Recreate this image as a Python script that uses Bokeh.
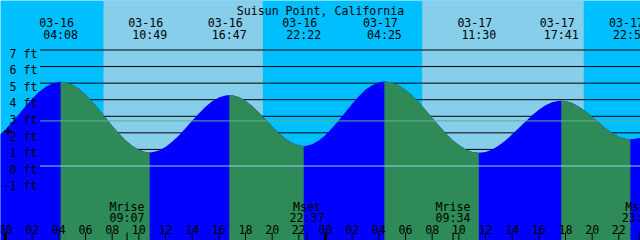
import numpy as np
from bokeh.plotting import figure
from bokeh.models import Range1d
from bokeh.core.properties import value
from bokeh.embed import file_html
from bokeh.resources import INLINE

# ---------------- data ----------------
title_text = "Suisun Point, California"

# high / low tide events
tide_times = ["03-16 04:08", "03-16 10:49", "03-16 16:47", "03-16 22:22",
              "03-17 04:25", "03-17 11:30", "03-17 17:41", "03-17 22:52"]
tide_heights = [5.08, 0.82, 4.28, 1.21, 5.10, 0.80, 3.94, 1.61]

# tide height (ft) read every half hour, starting 03-16 -1:00 (i.e. 03-15 23:00)
curve_start = -1.0
curve_step = 0.5
curve_heights = [
    1.54, 1.83, 2.21, 2.65, 3.13, 3.61, 4.06, 4.46, 4.77, 4.98,
    5.07, 5.05, 4.91, 4.66, 4.31, 3.89, 3.42, 2.92, 2.43, 1.96,
    1.55, 1.22, 0.98, 0.84, 0.83, 0.93, 1.15, 1.46, 1.84, 2.28,
    2.73, 3.17, 3.57, 3.90, 4.14, 4.26, 4.27, 4.16, 3.93, 3.62,
    3.23, 2.81, 2.38, 1.98, 1.64, 1.39, 1.24, 1.21, 1.31, 1.54,
    1.87, 2.29, 2.76, 3.26, 3.76, 4.21, 4.60, 4.88, 5.05, 5.10,
    5.03, 4.86, 4.59, 4.25, 3.84, 3.38, 2.91, 2.44, 1.99, 1.59,
    1.26, 1.01, 0.85, 0.80, 0.85, 1.00, 1.23, 1.54, 1.91, 2.30,
    2.69, 3.07, 3.40, 3.66, 3.85, 3.93, 3.92, 3.80, 3.59, 3.30,
    2.97, 2.62, 2.28, 1.99, 1.77, 1.64, 1.61, 1.68, 1.83]

moon_names = ["Mrise", "Mset", "Mrise", "Mset"]
moon_times = ["03-16 09:07", "03-16 22:37", "03-17 09:34", "03-17 23:32"]

sunrise_times = ["03-16 07:21", "03-17 07:15"]
sunset_times = ["03-16 19:18", "03-17 19:22"]

ft_levels = [7, 6, 5, 4, 3, 2, 1, 0, -1]
ft_labels = ["7 ft", "6 ft", "5 ft", "4 ft", "3 ft", "2 ft", "1 ft", "0 ft", "-1 ft"]
mean_level = 2.72
marker_level = 2.08

hour_ticks = list(range(0, 48, 2))
hour_labels = ["00", "02", "04", "06", "08", "10", "12", "14", "16", "18", "20", "22",
               "00", "02", "04", "06", "08", "10", "12", "14", "16", "18", "20", "22"]

# ---------------- colours / layout ----------------
NIGHT = "#00BFFF"
DAY = "#87CEEB"
RISE = "#0000FF"
FALL = "#2E8B57"
MEAN_COLOR = "#5FAE94"
ZERO_COLOR = "#8FD3EC"
FONT = value("DejaVu Sans Mono")
FSIZE = "11.6px"

W, H = 640, 240
X_PX0 = 5.0            # pixel column of 03-16 00:00
PX_PER_H = 40.0 / 3.0
Y_PX0 = 165.5          # pixel row of 0 ft
PX_PER_FT = 116.0 / 7.0


def hx(px):
    return (px - X_PX0) / PX_PER_H


def fy(py):
    return (Y_PX0 - py) / PX_PER_FT


def to_h(s):
    md, hm = s.split()
    day = int(md.split("-")[1])
    hh, mm = hm.split(":")
    return (day - 16) * 24 + int(hh) + int(mm) / 60.0


p = figure(width=W, height=H, x_range=Range1d(hx(0), hx(W)), y_range=Range1d(fy(H), fy(0)),
           output_backend="svg", toolbar_location=None, min_border=0,
           x_axis_type=None, y_axis_type=None, outline_line_color=None,
           background_fill_color=NIGHT, border_fill_color=NIGHT)
p.grid.visible = False

# day bands
p.quad(left=[to_h(s) for s in sunrise_times], right=[to_h(s) for s in sunset_times],
       bottom=fy(H + 2), top=fy(-2), fill_color=DAY, line_color=None)

# level lines (behind the tide)
p.segment(x0=hx(39.5), x1=hx(W + 5), y0=ft_levels, y1=ft_levels, line_color="black", line_width=1)

# tide curve
ext_t = [to_h(s) for s in tide_times]
cv_t = [curve_start + i * curve_step for i in range(len(curve_heights))]
pts = sorted(list(zip(cv_t, curve_heights)) + list(zip(ext_t, tide_heights)))
all_t = np.array([a for a, b in pts])
all_h = np.array([b for a, b in pts])
bottom = fy(H + 5)

p.varea(x=all_t, y1=np.full(len(all_t), bottom), y2=all_h, fill_color=RISE)
bounds = [all_t[0]] + ext_t + [all_t[-1]]
for i in range(len(bounds) - 1):
    t0, t1 = bounds[i], bounds[i + 1]
    if i == 0:
        falling = tide_heights[0] < tide_heights[1]
    elif i < len(ext_t):
        falling = tide_heights[i - 1] > tide_heights[i]
    else:
        falling = tide_heights[-1] > tide_heights[-2]
    if falling:
        m = (all_t >= t0) & (all_t <= t1)
        p.varea(x=all_t[m], y1=np.full(m.sum(), bottom), y2=all_h[m], fill_color=FALL)

# mean level and zero lines (on top of the tide)
p.segment(x0=hx(39.5), x1=hx(W + 5), y0=mean_level, y1=mean_level, line_color=MEAN_COLOR, line_width=1)
p.segment(x0=hx(39.5), x1=hx(W + 5), y0=0, y1=0, line_color=ZERO_COLOR, line_width=1)

# level labels
p.text(x=hx(37), y=[l - 3.7 / PX_PER_FT for l in ft_levels], text=ft_labels,
       text_align="right", text_baseline="alphabetic", text_font=FONT, text_font_size=FSIZE,
       text_color="black")
p.scatter(x=[hx(7.5)], y=[marker_level], marker="cross", size=8, line_width=1.5, line_color="black")

# title
p.text(x=[hx(320)], y=[fy(10)], text=[title_text], text_align="center", text_baseline="alphabetic",
       text_font=FONT, text_font_size=FSIZE, text_color="black")

# tide event labels
p.text(x=[t - 4 / PX_PER_H for t in ext_t], y=fy(21.7), text=[s.split()[0] for s in tide_times],
       text_align="center", text_baseline="alphabetic", text_font=FONT, text_font_size=FSIZE,
       text_color="black")
p.text(x=ext_t, y=fy(34), text=[s.split()[1] for s in tide_times],
       text_align="center", text_baseline="alphabetic", text_font=FONT, text_font_size=FSIZE,
       text_color="black")

# moon event labels
moon_t = [to_h(s) for s in moon_times]
p.text(x=moon_t, y=fy(206), text=moon_names, text_align="center", text_baseline="alphabetic",
       text_font=FONT, text_font_size=FSIZE, text_color="black")
p.text(x=moon_t, y=fy(217.3), text=[s.split()[1] for s in moon_times], text_align="center",
       text_baseline="alphabetic", text_font=FONT, text_font_size=FSIZE, text_color="black")

# hour labels and ticks
p.text(x=hour_ticks, y=fy(229.3), text=hour_labels, text_align="center", text_baseline="alphabetic",
       text_font=FONT, text_font_size=FSIZE, text_color="black")
minor = [t for t in hour_ticks if t % 24 != 0] + moon_t
major = [t for t in hour_ticks if t % 24 == 0]
p.segment(x0=minor, x1=minor, y0=fy(232), y1=fy(H + 2), line_color="black", line_width=1)
p.segment(x0=major, x1=major, y0=fy(232), y1=fy(H + 2), line_color="black", line_width=3)

open("out.html", "w").write(file_html(p, INLINE))
